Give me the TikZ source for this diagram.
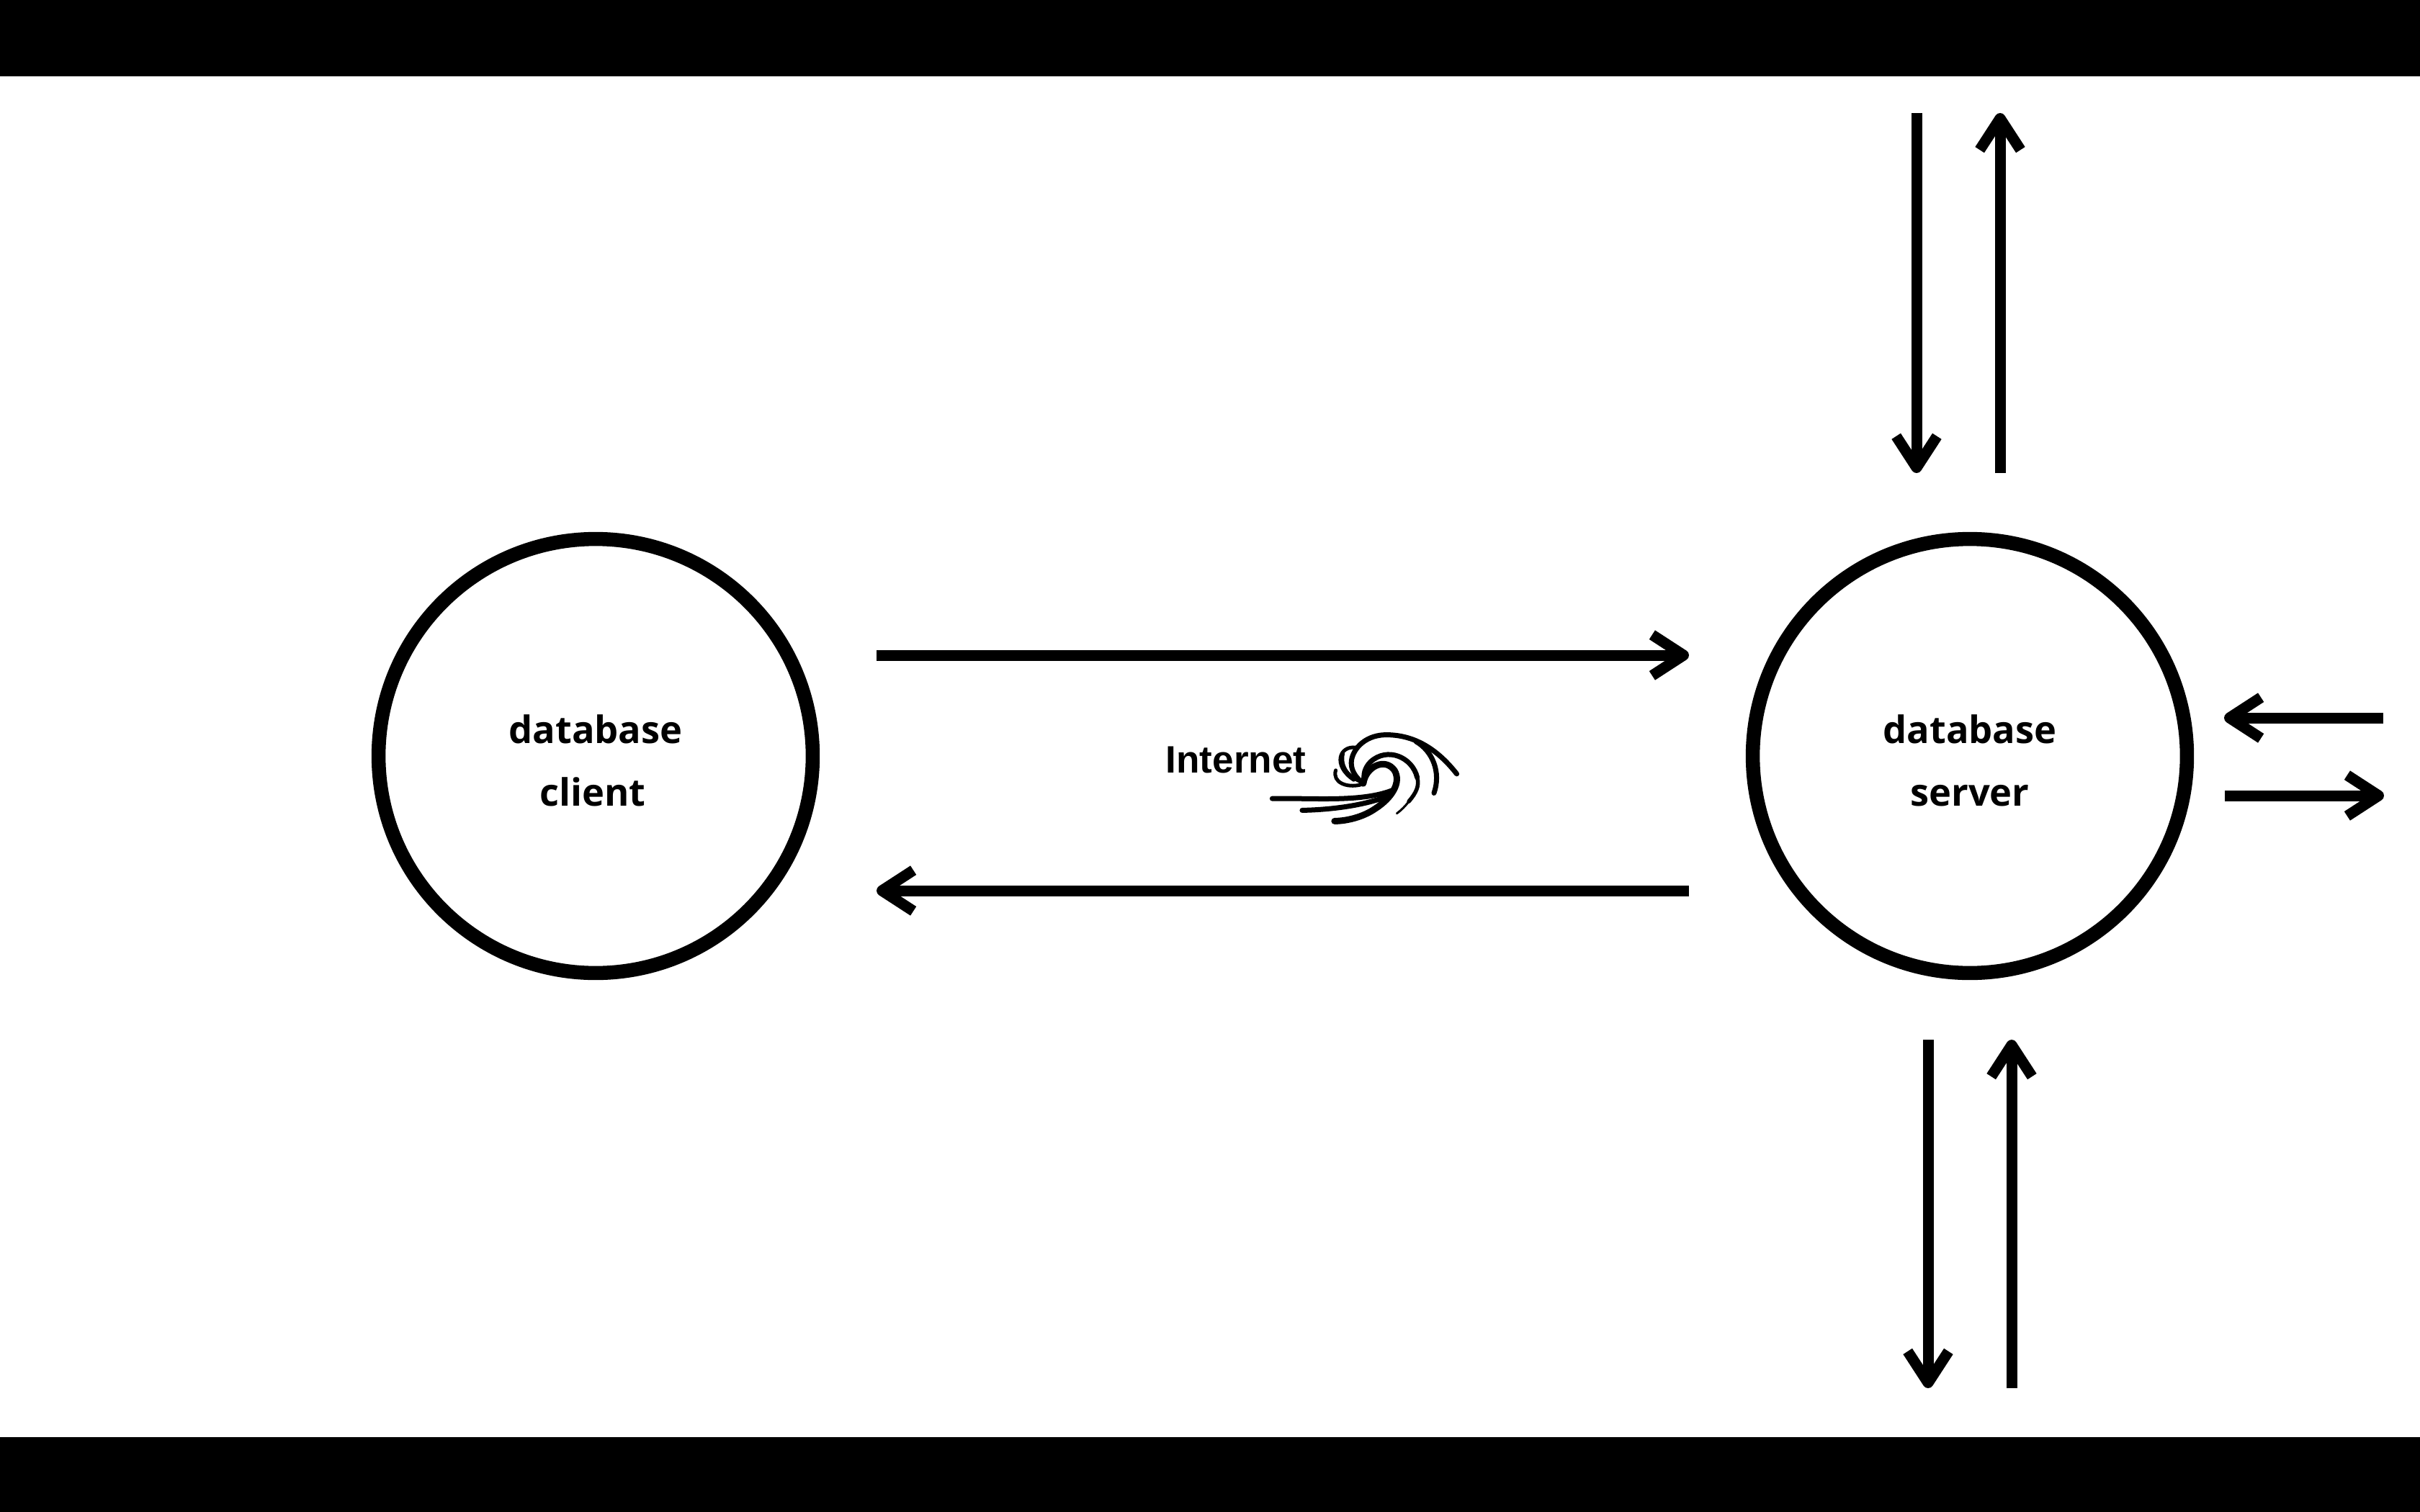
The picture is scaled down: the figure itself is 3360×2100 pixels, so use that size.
\documentclass[tikz,border=0pt]{standalone}
\usepackage{fontspec}
\setmainfont{Open Sans}
\newfontfamily\inetfont{Liberation Sans}
\usetikzlibrary{calc}
\tikzset{
  db/.style={circle,draw=black,line width=0.195cm,minimum size=6.025cm,inner sep=0pt,align=center,font=\fontsize{14.9}{24.7}\selectfont\bfseries},
  band/.style={fill=black,draw=none,inner sep=0pt,minimum width=33.6cm},
  flowline/.style={line width=0.15cm,line join=round},
  wave/.style={line width=0.07cm,line cap=round,line join=round},
  wavethin/.style={line width=0.03cm,line cap=round}
}
% arrow from named coordinate #1 to named coordinate #2, with an open head
\newcommand\flowarrow[2]{%
  \coordinate (tip) at ($(#2)!0.075cm!(#1)$);
  \draw[flowline] (#1) -- (tip);
  \draw[flowline] ($(tip)!0.52cm!33:(#1)$) -- (tip) -- ($(tip)!0.52cm!-33:(#1)$);
}
\newcommand\topstrut{\rule{0pt}{0.53cm}}
\begin{document}
\begin{tikzpicture}[x=0.01cm,y=-0.01cm]
\useasboundingbox (0,0) rectangle (3360,2100);
\fill[white] (0,0) rectangle (3360,2100);
\node[band,minimum height=1.06cm] (topband) at (1680,53) {};
\node[band,minimum height=1.04cm] (botband) at (1680,2048) {};
\node[db] (client) at (827,1050) {\topstrut database\\client\hspace*{0.08cm}};
\node[db] (server) at (2735,1050) {\topstrut database\\server};
\node[anchor=base,inner sep=0pt,font=\inetfont\fontsize{15.1}{17}\selectfont\bfseries] (inet) at (1716,1073) {Internet};
% main arrows
\coordinate (m1a) at (1217,910); \coordinate (m1b) at (2345,910);
\coordinate (m2a) at (2345,1237); \coordinate (m2b) at (1217,1237);
\flowarrow{m1a}{m1b}
\flowarrow{m2a}{m2b}
% top arrows
\coordinate (t1a) at (2661,157); \coordinate (t1b) at (2661,657);
\coordinate (t2a) at (2777,657); \coordinate (t2b) at (2777,157);
\flowarrow{t1a}{t1b}
\flowarrow{t2a}{t2b}
% right arrows
\coordinate (r1a) at (3309,997); \coordinate (r1b) at (3088,997);
\coordinate (r2a) at (3089,1105); \coordinate (r2b) at (3310,1105);
\flowarrow{r1a}{r1b}
\flowarrow{r2a}{r2b}
% bottom arrows
\coordinate (b1a) at (2677,1444); \coordinate (b1b) at (2677,1928);
\coordinate (b2a) at (2793,1928); \coordinate (b2b) at (2793,1444);
\flowarrow{b1a}{b1b}
\flowarrow{b2a}{b2b}
% swirl glyph
\begin{scope}[shift={(1560,980)},x=0.003333cm,y=-0.003333cm]
\draw[wave] (1390,285) .. controls (1300,170) and (1200,120) .. (1090,122) .. controls (1000,125) and (950,190) .. (950,240) .. controls (950,280) and (980,310) .. (1000,325);
\draw[wave] (1295,365) .. controls (1325,280) and (1290,190) .. (1220,150);
\draw[wave] (1225,300) .. controls (1205,215) and (1100,170) .. (1030,235) .. controls (1005,260) and (1000,290) .. (1005,310);
\draw[wave,line width=0.055cm] (1225,300) .. controls (1235,335) and (1220,365) .. (1190,400);
\draw[wavethin] (1190,400) .. controls (1175,420) and (1160,435) .. (1140,450);
\draw[wave,line width=0.09cm] (1000,325) .. controls (1010,255) and (1090,215) .. (1130,270) .. controls (1160,320) and (1120,385) .. (1050,430) .. controls (1000,465) and (930,482) .. (880,482);
\draw[wave] (620,388) .. controls (800,385) and (1000,405) .. (1130,350);
\draw[wave] (745,437) .. controls (850,435) and (1000,420) .. (1110,375);
\draw[wave,line width=0.05cm] (970,175) .. controls (900,165) and (870,250) .. (960,310);
\draw[wave,line width=0.05cm] (915,200) .. controls (900,270) and (960,310) .. (1000,320);
\draw[wave,line width=0.05cm] (885,270) .. controls (870,320) and (930,345) .. (990,330);
\end{scope}
\end{tikzpicture}
\end{document}
